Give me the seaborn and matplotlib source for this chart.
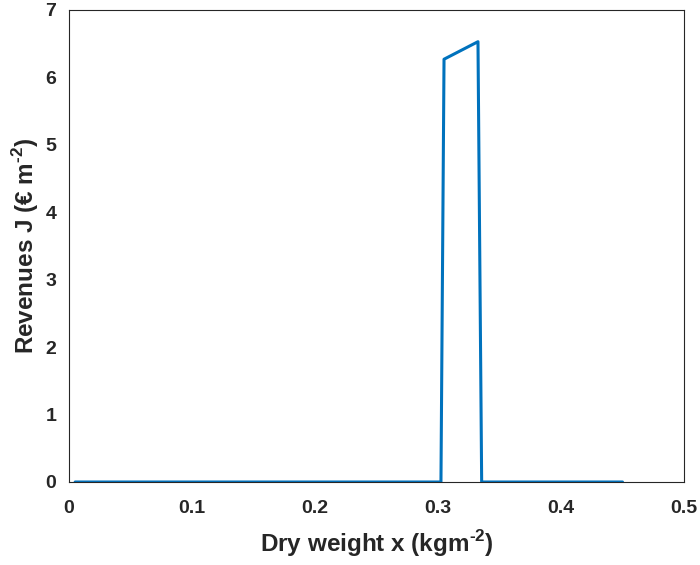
import matplotlib
matplotlib.use("Agg")
import matplotlib.pyplot as plt
import seaborn as sns
import pandas as pd

# Data
dry_weight = [0.005, 0.3000, 0.3024, 0.3049, 0.3325, 0.3355, 0.45]
revenues = [0.0, 0.0, 0.0, 6.27, 6.53, 0.0, 0.0]

x_ticks = [0, 0.1, 0.2, 0.3, 0.4, 0.5]
x_tick_labels = ["0", "0.1", "0.2", "0.3", "0.4", "0.5"]
y_ticks = [0, 1, 2, 3, 4, 5, 6, 7]

sns.set_style("white")
plt.rcParams['font.family'] = ['Liberation Sans', 'DejaVu Sans']
plt.rcParams['font.weight'] = 'bold'
plt.rcParams['mathtext.fontset'] = 'custom'
plt.rcParams['mathtext.rm'] = 'Liberation Sans:bold'
plt.rcParams['mathtext.bf'] = 'Liberation Sans:bold'

df = pd.DataFrame({"x": dry_weight, "y": revenues})

fig = plt.figure(figsize=(7.0, 5.65), dpi=100)
ax = fig.add_axes([69/700, 1 - 482/565, (684-69)/700, (482-10)/565])

sns.lineplot(data=df, x="x", y="y", ax=ax, color="#0072BD", linewidth=2.2,
             estimator=None, sort=False)

ax.set_xlim(0, 0.5)
ax.set_ylim(0, 7)
ax.set_xticks(x_ticks)
ax.set_xticklabels(x_tick_labels)
ax.set_yticks(y_ticks)
ax.tick_params(axis='both', direction='in', length=4, width=0.8, colors='#262626',
               labelsize=14, labelcolor='#262626')
ax.tick_params(axis='x', pad=13)
ax.tick_params(axis='y', pad=9)
for lab in ax.get_xticklabels() + ax.get_yticklabels():
    lab.set_fontweight('bold')
for s in ax.spines.values():
    s.set_color('#262626')
    s.set_linewidth(0.8)

ax.set_xlabel("Dry weight x (kgm$^{\\mathrm{\u20102}}$)", fontsize=17.5, fontweight='bold',
              color='#262626', labelpad=8)
ax.set_ylabel("Revenues J (€ m$^{\\mathrm{\u20102}}$)", fontsize=17.5, fontweight='bold',
              color='#262626', labelpad=3)

fig.savefig("out.png", dpi=100)
